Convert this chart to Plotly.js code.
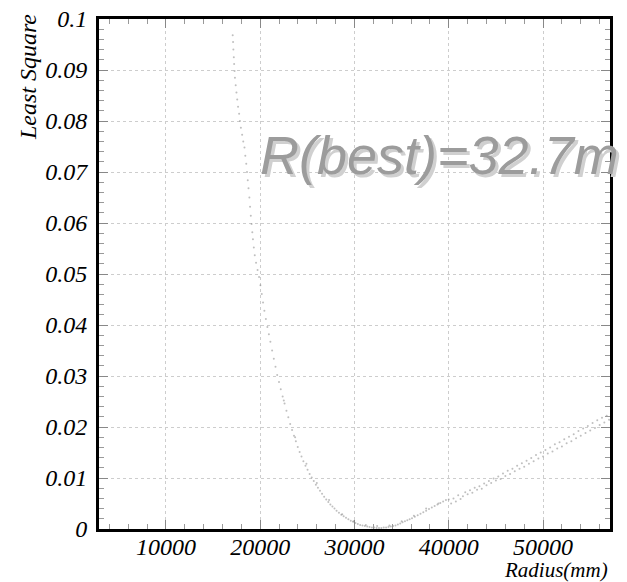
<!DOCTYPE html>
<html>
<head>
<meta charset="utf-8">
<script src="https://cdn.plot.ly/plotly-3.0.1.min.js"></script>
<style>html,body{margin:0;padding:0;background:#fff;}#chart{width:627px;height:582px;}</style>
</head>
<body>
<div id="chart"></div>
<script>
// Radius (mm) of each scan point
const radiusMm = [
17080,17120,17150,17200,17230,17280,17320,17400,17480,17560,17650,17760,17850,17950,18080,18200,18330,18420,18520,18600,
18680,18760,18850,18920,19000,19080,19160,19230,19320,19420,19560,19720,19880,20020,20160,20300,20440,20600,20760,20920,
21080,21260,21440,21620,21800,21990,22180,22380,22580,22780,22980,23180,23380,23580,23780,23980,24180,24380,24580,24800,
25020,25240,25460,25680,25900,26120,26340,26560,26780,27000,27220,27440,27660,27880,28100,28350,28600,28850,29100,29350,
29600,29850,30100,30350,30600,30850,31100,31350,31600,31850,32100,32350,32600,32850,33100,33350,33600,33850,34100,34350,
34600,34850,35100,35350,35600,35850,36100,36400,36700,37000,37300,37600,37900,38200,38500,38800,39100,39400,39700,
40000,40250,40500,40750,41000,41250,41500,41750,42000,42250,42500,42750,43000,43250,43500,43750,44000,44250,44500,44750,
45000,45250,45500,45750,46000,46250,46500,46750,47000,47250,47500,47750,48000,48250,48500,48750,49000,49250,49500,49750,
50000,50250,50500,50750,51000,51250,51500,51750,52000,52250,52500,52750,53000,53250,53500,53750,54000,54250,54500,54750,
55000,55250,55500,55750,56000,56250,56500,56750,57000,
22500,23700,24900,26000,27300,28700,29900,31200,32400,33700,35000,36300,37600,38900
];
// Least square value of each scan point
const leastSquare = [
0.0968,0.0955,0.0940,0.0925,0.0912,0.0898,0.0885,0.0870,0.0856,0.0842,0.0828,0.0814,0.0800,0.0787,0.0773,0.0760,0.0748,0.0732,0.0716,0.0700,
0.0684,0.0668,0.0650,0.0632,0.0614,0.0598,0.0582,0.0568,0.0552,0.0537,0.0522,0.0508,0.0494,0.0478,0.0461,0.0444,0.0428,0.0412,0.0396,0.0382,
0.0367,0.0350,0.0334,0.0318,0.0302,0.0288,0.0274,0.0260,0.0246,0.0232,0.0219,0.0206,0.0194,0.0183,0.0172,0.0161,0.0151,0.0142,0.0133,0.0124,
0.0116,0.0108,0.0101,0.0094,0.0087,0.0081,0.0075,0.0069,0.0063,0.0058,0.0053,0.0048,0.0044,0.0040,0.0036,0.0032,0.0028,0.0025,0.0022,0.0019,
0.0016,0.0014,0.0012,0.0010,0.0008,0.0007,0.0006,0.0005,0.0004,0.0003,0.0003,0.0002,0.0002,0.0002,0.0003,0.0003,0.0004,0.0005,0.0006,0.0007,
0.0009,0.0011,0.0013,0.0015,0.0017,0.0019,0.0021,0.0024,0.0027,0.0030,0.0033,0.0036,0.0039,0.0042,0.0045,0.0048,0.0051,0.0054,0.0057,
0.0058,0.0050,0.0060,0.0054,0.0066,0.0059,0.0064,0.0072,0.0068,0.0076,0.0071,0.0081,0.0077,0.0084,0.0079,0.0089,0.0086,0.0094,0.0090,0.0099,
0.0095,0.0103,0.0098,0.0109,0.0104,0.0114,0.0108,0.0118,0.0113,0.0124,0.0118,0.0129,0.0122,0.0134,0.0128,0.0139,0.0133,0.0145,0.0138,0.0150,
0.0142,0.0155,0.0148,0.0160,0.0152,0.0166,0.0158,0.0170,0.0162,0.0176,0.0168,0.0181,0.0172,0.0186,0.0178,0.0192,0.0183,0.0197,0.0188,0.0202,
0.0193,0.0208,0.0198,0.0213,0.0204,0.0218,0.0209,0.0222,0.0214,
0.0252,0.0180,0.0128,0.0090,0.0057,0.0029,0.0015,0.0008,0.0006,0.0007,0.0015,0.0026,0.0040,0.0050
];
const yTickVals = [0,0.01,0.02,0.03,0.04,0.05,0.06,0.07,0.08,0.09,0.1];
const yTickText = ['0','0.01','0.02','0.03','0.04','0.05','0.06','0.07','0.08','0.09','0.1'];
const xTickVals = [10000,20000,30000,40000,50000];
const xTickText = ['10000','20000','30000','40000','50000'];
const bestLabel = 'R(best)=32.7m';

const serifFamily = 'Liberation Serif';
const tickFont = {family:serifFamily, size:24, color:'#000', style:'italic'};

const trace = {
  x: radiusMm, y: leastSquare, type:'scatter', mode:'markers',
  marker:{size:2, color:'#8a8a8a', opacity:0.55},
  hoverinfo:'skip', cliponaxis:true
};

const axisCommon = {
  showline:true, linecolor:'#000', linewidth:3, mirror:'ticks',
  ticks:'inside', ticklen:9, tickwidth:1, tickcolor:'#888',
  showgrid:true, gridcolor:'#cdcdcd', gridwidth:1, griddash:'dot',
  zeroline:false, tickfont:tickFont
};

const layout = {
  width:627, height:582,
  margin:{l:99, r:17, t:19, b:53},
  paper_bgcolor:'#fff', plot_bgcolor:'#fff',
  showlegend:false,
  xaxis: Object.assign({}, axisCommon, {
    range:[2900,57100], tickmode:'array', tickvals:xTickVals, ticktext:xTickText,
    minor:{dtick:2000, tick0:0, ticks:'inside', ticklen:5, tickcolor:'#999', showgrid:false},
    ticklabelstandoff:-6
  }),
  yaxis: Object.assign({}, axisCommon, {
    range:[0,0.1], tickmode:'array', tickvals:yTickVals, ticktext:yTickText,
    minor:{dtick:0.002, tick0:0, ticks:'inside', ticklen:5, tickcolor:'#999', showgrid:false},
    ticklabelstandoff:4
  }),
  annotations:[
    {text:'Least Square', xref:'paper', yref:'paper', x:-0.139, y:0.886, xanchor:'center', yanchor:'middle',
     textangle:-90, showarrow:false, font:{family:serifFamily, size:24, color:'#000', style:'italic'}},
    {text:'Radius(mm)', xref:'paper', yref:'paper', x:1, y:-0.080, xanchor:'right', yanchor:'middle',
     showarrow:false, font:{family:serifFamily, size:21, color:'#000', style:'italic'}},
    {text:bestLabel, xref:'paper', yref:'paper', x:0.667, y:0.733, xanchor:'center', yanchor:'middle',
     xshift:3, yshift:-3, showarrow:false, font:{family:'Liberation Sans', size:54, color:'#d0d0d0', style:'italic'}},
    {text:bestLabel, xref:'paper', yref:'paper', x:0.667, y:0.733, xanchor:'center', yanchor:'middle',
     showarrow:false, font:{family:'Liberation Sans', size:54, color:'#9c9c9c', style:'italic'}}
  ]
};

Plotly.newPlot('chart', [trace], layout, {staticPlot:true, displayModeBar:false});
</script>
</body>
</html>
